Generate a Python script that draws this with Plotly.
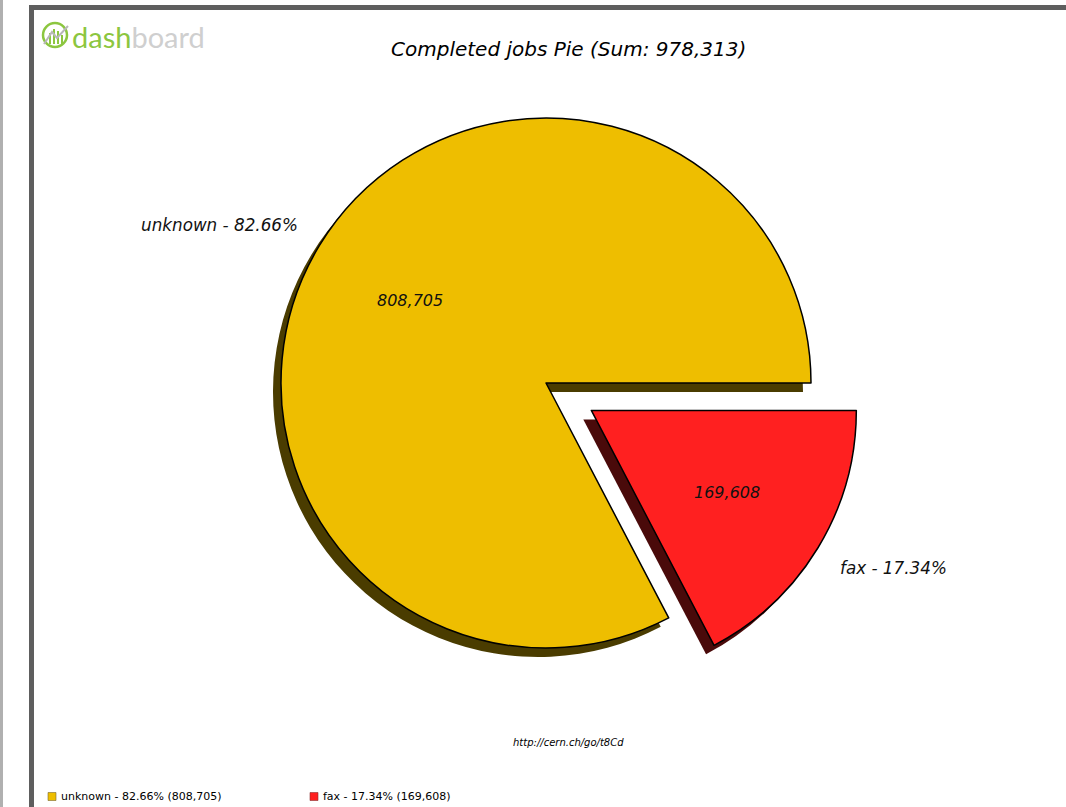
import math
import plotly.graph_objects as go

W, H = 1066, 807

# ---- data ----
categories = ["unknown", "fax"]
job_counts = [808705, 169608]
slice_colors = ["#eebe00", "#ff2020"]
shadow_colors = ["#4a3c00", "#4a0a0a"]
pull_fractions = [0.0, 0.2]
chart_title = "Completed jobs Pie"
source_url = "http://cern.ch/go/t8Cd"

total = sum(job_counts)
shares = [v / total * 100 for v in job_counts]

# ---- pie geometry (pixels) ----
CX, CY, R = 546, 383, 265
SHADOW_DX, SHADOW_DY = -8, 9
box = 2 * R * (1 + max(pull_fractions))

# first slice starts at 3 o'clock and runs counterclockwise;
# plotly's counterclockwise mode anchors the end of the first slice at `rotation`
rotation = 90 + 360 * (1 - job_counts[0] / total)


def px(x):
    return x / W


def py(y):
    return 1 - y / H


def domain(cx, cy):
    return dict(x=[px(cx - box / 2), px(cx + box / 2)],
                y=[py(cy + box / 2), py(cy - box / 2)])


fig = go.Figure()

# drop shadow underneath the pie
fig.add_trace(go.Pie(
    labels=categories, values=job_counts, sort=False,
    direction="counterclockwise", rotation=rotation,
    pull=pull_fractions, domain=domain(CX + SHADOW_DX, CY + SHADOW_DY),
    marker=dict(colors=shadow_colors, line=dict(width=0)),
    textinfo="none", hoverinfo="skip", showlegend=False,
))

# main pie
fig.add_trace(go.Pie(
    labels=categories, values=job_counts, sort=False,
    direction="counterclockwise", rotation=rotation,
    pull=pull_fractions, domain=domain(CX, CY),
    marker=dict(colors=slice_colors, line=dict(color="#000000", width=1.5)),
    textinfo="none", showlegend=False,
))

annotations = []
shapes = []

# slice labels: value inside at 0.6 r, name + share outside the rim
start = 0.0
for name, val, share, pull in zip(categories, job_counts, shares, pull_fractions):
    span = share / 100 * 360
    mid = math.radians(start + span / 2)
    start += span
    ox = CX + pull * R * math.cos(mid)
    oy = CY - pull * R * math.sin(mid)
    annotations.append(dict(
        x=px(ox + 0.6 * R * math.cos(mid)), y=py(oy - 0.6 * R * math.sin(mid)),
        xref="paper", yref="paper", showarrow=False,
        text=f"<i>{val:,}</i>", xanchor="center", yanchor="middle",
        font=dict(family="DejaVu Sans", size=16, color="#111111"),
    ))
    right_side = math.cos(mid) >= 0
    annotations.append(dict(
        x=px(ox + 1.1 * R * math.cos(mid)), y=py(oy - 1.15 * R * math.sin(mid)),
        xref="paper", yref="paper", showarrow=False,
        xshift=-3 if right_side else 3,
        text=f"<i>{name} - {share:.2f}%</i>",
        xanchor="left" if right_side else "right", yanchor="middle",
        font=dict(family="DejaVu Sans", size=16.8, color="#111111"),
    ))

# title
annotations.append(dict(
    x=px(568), y=py(49), xref="paper", yref="paper", showarrow=False,
    text=f"<i>{chart_title} (Sum: {total:,})</i>", xanchor="center", yanchor="middle",
    font=dict(family="DejaVu Sans", size=20, color="#000000"),
))

# source link
annotations.append(dict(
    x=px(568), y=py(742), xref="paper", yref="paper", showarrow=False,
    text=f"<i>{source_url}</i>", xanchor="center", yanchor="middle",
    font=dict(family="DejaVu Sans", size=10, color="#000000"),
))

# legend row
LEG_X0, LEG_STEP, LEG_Y = 48, 262, 796.5
for i, (name, val, share, col) in enumerate(zip(categories, job_counts, shares, slice_colors)):
    x0 = LEG_X0 + i * LEG_STEP
    shapes.append(dict(type="rect", xref="paper", yref="paper",
                       x0=px(x0), x1=px(x0 + 8), y0=py(LEG_Y + 4), y1=py(LEG_Y - 4),
                       fillcolor=col, line=dict(color="#7a6a30" if i == 0 else "#8a3030", width=0.6)))
    annotations.append(dict(
        x=px(x0 + 11), y=py(LEG_Y), xref="paper", yref="paper", showarrow=False,
        text=f"{name} - {share:.2f}% ({val:,})", xanchor="left", yanchor="middle",
        font=dict(family="DejaVu Sans", size=11, color="#000000"),
    ))

# page frame
shapes.append(dict(type="rect", xref="paper", yref="paper",
                   x0=0, x1=px(3), y0=0, y1=1, fillcolor="#b0b0b0", line=dict(width=0)))
shapes.append(dict(type="rect", xref="paper", yref="paper",
                   x0=px(31.5), x1=px(W + 20), y0=py(H + 20), y1=py(7.5),
                   fillcolor="rgba(0,0,0,0)", line=dict(color="#5e5e5e", width=5)))

# dashboard logo
green = "#8cc63f"
shapes.append(dict(type="circle", xref="paper", yref="paper",
                   x0=px(43), x1=px(67), y0=py(47), y1=py(23),
                   line=dict(color=green, width=2.5)))
for bx, top in [(50, 33), (54, 29), (58, 31), (62, 35)]:
    shapes.append(dict(type="line", xref="paper", yref="paper",
                       x0=px(bx), x1=px(bx), y0=py(44), y1=py(top),
                       line=dict(color=green, width=2)))
shapes.append(dict(type="path", xref="paper", yref="paper",
                   path=f"M {px(44)},{py(44)} L {px(52)},{py(32)} L {px(57)},{py(38)} L {px(68)},{py(26)}",
                   line=dict(color="#b8b8b8", width=2)))
annotations.append(dict(
    x=px(70), y=py(37), xref="paper", yref="paper", showarrow=False,
    text=f"<span style='color:{green}'>dash</span><span style='color:#cfcfcf'>board</span>",
    xanchor="left", yanchor="middle",
    font=dict(family="Lato", size=29, weight=400),
))

fig.update_layout(
    width=W, height=H, margin=dict(l=0, r=0, t=0, b=0),
    paper_bgcolor="#ffffff", plot_bgcolor="#ffffff",
    showlegend=False, annotations=annotations, shapes=shapes,
)

fig.write_html("out.html", include_plotlyjs=True, config={"displayModeBar": False})
